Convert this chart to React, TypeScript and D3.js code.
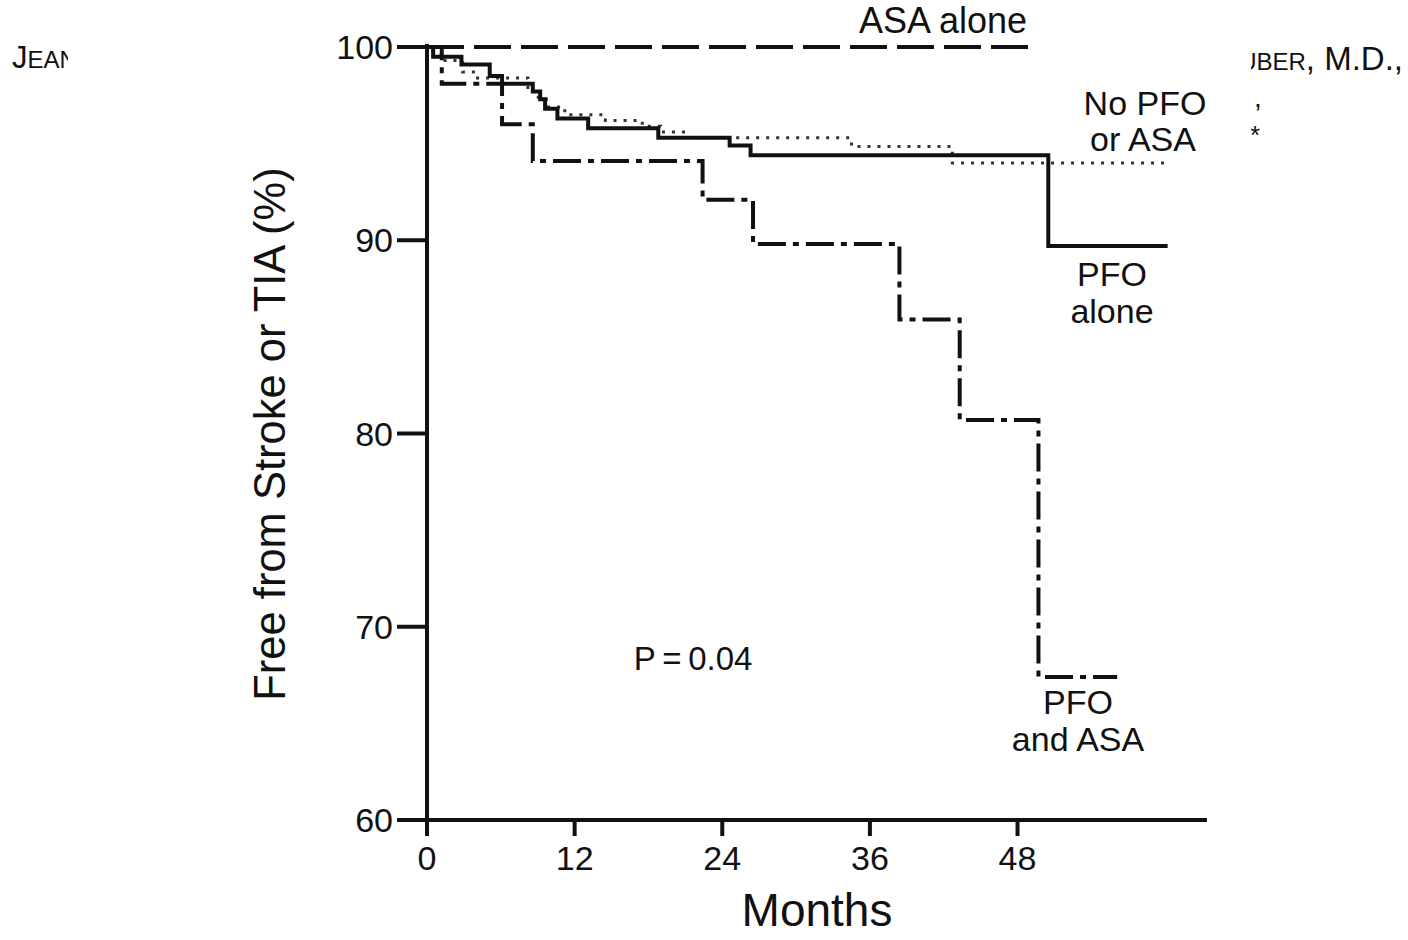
import React from "react";
import * as d3 from "d3";

// Kaplan-Meier style curves
const xTicks = [0, 12, 24, 36, 48];
const yTicks = [60, 70, 80, 90, 100];

const asaMonths = [0, 49.3];
const asaValues = [100, 100];

const pfoMonths = [0, 0.5, 2.8, 5.1, 6.1, 8.6, 9.2, 9.6, 10.6, 13.1, 18.8, 24.6, 26.3, 50.5, 60.2];
const pfoValues = [100, 99.5, 99.1, 98.5, 98.1, 97.7, 97.3, 96.8, 96.3, 95.8, 95.3, 94.9, 94.4, 89.7, 89.7];

const noneMonths = [0, 1.0, 2.9, 4.1, 8.2, 8.7, 9.7, 11.2, 14.5, 17.5, 19.0, 21.2, 34.5, 42.7, 60.3];
const noneValues = [100, 99.3, 98.7, 98.4, 97.8, 97.4, 96.9, 96.5, 96.2, 95.9, 95.6, 95.3, 94.85, 94.0, 94.0];

const bothMonths = [0, 1.2, 6.1, 8.6, 22.4, 26.5, 38.4, 43.3, 49.7, 56.1];
const bothValues = [100, 98.1, 96.0, 94.1, 92.1, 89.8, 85.9, 80.7, 67.4, 67.4];

const W = 1408;
const H = 940;
const FONT = "'Liberation Sans', Arial, sans-serif";
const INK = "#111";

const x = d3.scaleLinear().domain([0, 63.4]).range([427, 1207]);
const y = d3.scaleLinear().domain([60, 100]).range([820, 47]);

const step = d3
  .line<[number, number]>()
  .x((d) => x(d[0]))
  .y((d) => y(d[1]))
  .curve(d3.curveStepAfter);

const zip = (a: number[], b: number[]) => a.map((m, i) => [m, b[i]] as [number, number]);

export default function App() {
  return (
    <svg
      width={W}
      height={H}
      style={{ position: "absolute", left: 0, top: 0, background: "#fff" }}
      fontFamily={FONT}
    >
      <defs>
        <clipPath id="leftClip">
          <rect x={0} y={0} width={68} height={100} />
        </clipPath>
        <clipPath id="rightClip">
          <rect x={1251} y={0} width={160} height={160} />
        </clipPath>
      </defs>

      {/* stray header fragments */}
      <g clipPath="url(#leftClip)" fill={INK}>
        <text x={12} y={68} fontSize={31}>
          J<tspan fontSize={24}>EAN</tspan>
        </text>
      </g>
      <g clipPath="url(#rightClip)" fill={INK}>
        <text x={1403} y={70} fontSize={33} textAnchor="end">
          <tspan fontSize={24}>HUBER</tspan>, M.D.,
        </text>
        <text x={1254} y={107} fontSize={28}>,</text>
        <text x={1250} y={144} fontSize={26}>*</text>
      </g>

      {/* curves */}
      <path
        d={step(zip(asaMonths, asaValues)) ?? ""}
        fill="none"
        stroke={INK}
        strokeWidth={4}
        strokeDasharray="37,10"
      />
      <path
        d={step(zip(noneMonths, noneValues)) ?? ""}
        fill="none"
        stroke="#333"
        strokeWidth={3}
        strokeDasharray="3,7"
      />
      <path
        d={step(zip(bothMonths, bothValues)) ?? ""}
        fill="none"
        stroke={INK}
        strokeWidth={4}
        strokeDasharray="28,7,6,7"
      />
      <path
        d={step(zip(pfoMonths, pfoValues)) ?? ""}
        fill="none"
        stroke={INK}
        strokeWidth={4}
      />

      {/* axes */}
      <g stroke={INK} strokeWidth={4}>
        <line x1={x(0)} x2={x(0)} y1={y(60) + 16} y2={y(100) - 3} />
        <line x1={397} x2={1207} y1={y(60)} y2={y(60)} />
        {yTicks.map((t) => (
          <line key={t} x1={397} x2={x(0)} y1={y(t)} y2={y(t)} />
        ))}
        {xTicks.map((t) => (
          <line key={t} x1={x(t)} x2={x(t)} y1={y(60)} y2={y(60) + 16} />
        ))}
      </g>
      <g fill={INK} fontSize={34}>
        {yTicks.map((t) => (
          <text key={t} x={393} y={y(t) + 12} textAnchor="end">
            {t}
          </text>
        ))}
        {xTicks.map((t) => (
          <text key={t} x={x(t)} y={870} textAnchor="middle">
            {t}
          </text>
        ))}
      </g>
      <text x={817} y={926} fontSize={46} textAnchor="middle" fill={INK}>
        Months
      </text>
      <text
        transform="translate(285,434) rotate(-90)"
        fontSize={43.5}
        textAnchor="middle"
        fill={INK}
      >
        Free from Stroke or TIA (%)
      </text>

      {/* curve labels */}
      <g fill={INK} fontSize={34} textAnchor="middle">
        <text x={943} y={33} fontSize={36}>ASA alone</text>
        <text x={1145} y={115}>No PFO</text>
        <text x={1143} y={151}>or ASA</text>
        <text x={1112} y={286}>PFO</text>
        <text x={1112} y={323}>alone</text>
        <text x={1078} y={714}>PFO</text>
        <text x={1078} y={751}>and ASA</text>
        <text x={693} y={670} fontSize={33}>P{"\u2009"}={"\u2009"}0.04</text>
      </g>
    </svg>
  );
}
